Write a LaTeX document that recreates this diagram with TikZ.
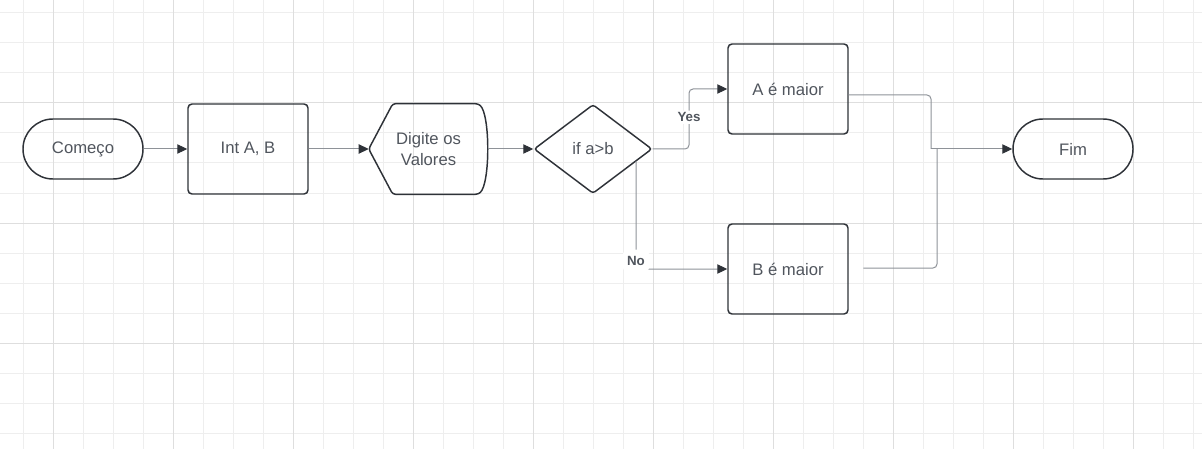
\documentclass[tikz,border=0pt]{standalone}
\usepackage{fontspec}
\setmainfont{Liberation Sans}
\usetikzlibrary{shapes.geometric,arrows.meta,positioning}
\definecolor{FlowInk}{HTML}{2E3238}
\definecolor{FlowText}{HTML}{50555D}
\definecolor{FlowWire}{HTML}{8E9298}
\definecolor{GridMinor}{HTML}{EEEEEE}
\definecolor{GridMajor}{HTML}{DEDEDE}
\tikzset{
  shapeline/.style={draw=FlowInk,line width=1.1pt},
  termbox/.style={shapeline,minimum width=90pt,minimum height=45pt,rounded corners=22.5pt,
    font=\fontsize{12.5pt}{16pt}\selectfont,text=FlowText},
  procbox/.style={shapeline,minimum width=90pt,minimum height=67.5pt,rounded corners=3pt,
    font=\fontsize{12.5pt}{16pt}\selectfont,text=FlowText},
  displaybox/.style={minimum width=89.25pt,minimum height=67.5pt,inner sep=0pt,align=center,
    font=\fontsize{12.5pt}{16pt}\selectfont,text=FlowText},
  decbox/.style={shapeline,diamond,aspect=1.33,minimum width=88.5pt,minimum height=66.75pt,
    inner sep=0pt,rounded corners=2pt,font=\fontsize{12.5pt}{16pt}\selectfont,text=FlowText},
  wire/.style={draw=FlowWire,line width=0.75pt,rounded corners=3pt,
    -{Triangle[length=7.5pt,width=7pt,color=FlowInk]}},
  plainwire/.style={draw=FlowWire,line width=0.75pt,rounded corners=3pt},
  wirelabel/.style={fill=white,inner sep=1.5pt,font=\bfseries\fontsize{10pt}{11pt}\selectfont,text=FlowText}
}
\begin{document}
\begin{tikzpicture}[x=0.75pt,y=-0.75pt]
  \useasboundingbox (0,0) rectangle (1202,449);
  % grid paper
  \foreach \gx in {23,53,...,1193} \draw[GridMinor,line width=0.75pt] (\gx,0) -- (\gx,449);
  \foreach \gy in {13,43,...,433} \draw[GridMinor,line width=0.75pt] (0,\gy) -- (1202,\gy);
  \foreach \gx in {53,173,...,1133} \draw[GridMajor,line width=0.75pt] (\gx,0) -- (\gx,449);
  \foreach \gy in {103,223,343} \draw[GridMajor,line width=0.75pt] (0,\gy) -- (1202,\gy);

  \node[termbox] (start) at (83,149) {Começo};
  \node[procbox] (vars) at (248,149) {Int A, B};
  \node[displaybox] (input) at (428.5,149) {Digite os\\Valores};
  \draw[shapeline,rounded corners=2pt] (input.west) -- ([xshift=18pt]input.north west)
    -- ([xshift=-7.5pt]input.north east)
    .. controls ([xshift=1.5pt,yshift=-8pt]input.north east) and ([xshift=1.5pt,yshift=8pt]input.south east)
    .. ([xshift=-7.5pt]input.south east) -- ([xshift=18pt]input.south west) -- cycle;
  \node[decbox] (test) at (593,149) {if a>b};
  \node[procbox] (amax) at (788,89) {A é maior};
  \node[procbox] (bmax) at (788,269) {B é maior};
  \node[termbox] (stop) at (1073,149) {Fim};

  % bends of the connectors
  \coordinate (yesbend) at (689,149);
  \coordinate (nofoot) at (636,161);
  \coordinate (joinA) at (931,149);
  \coordinate (joinB) at (937,149);

  \draw[wire] (start) -- (vars);
  \draw[wire] (vars) -- (input);
  \draw[wire] (input) -- (test);
  \draw[wire] (test.east) -- (yesbend) |- node[pos=0.265,wirelabel] {Yes} (amax.west);
  \draw[wire] (nofoot) |- (bmax.west)
    node[pos=0.5,wirelabel,yshift=6pt,inner xsep=3pt,inner ysep=5pt] {No};
  \draw[plainwire] ([yshift=-4.5pt]amax.east) -| (joinA);
  \draw[plainwire,shorten <=11pt] ([yshift=0.75pt]bmax.east) -| (joinB);
  \draw[wire] (joinA) -- (stop.west);
\end{tikzpicture}
\end{document}
